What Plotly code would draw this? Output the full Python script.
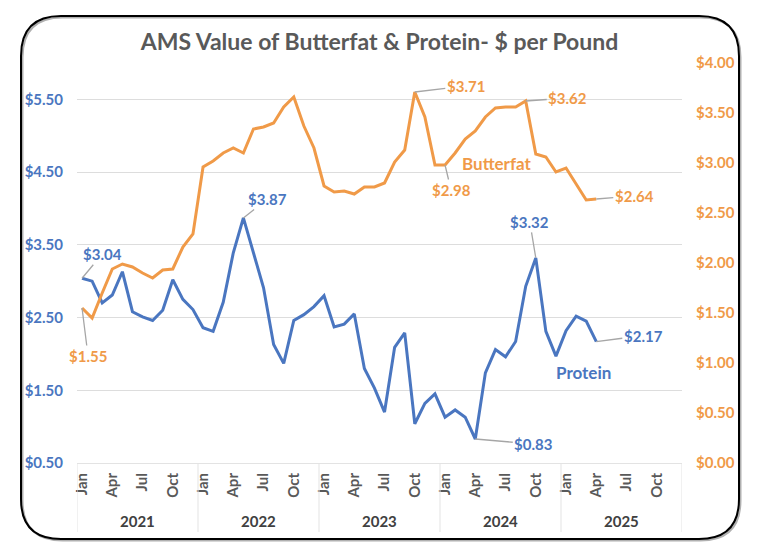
import plotly.graph_objects as go

# monthly values, Jan 2021 .. Apr 2025
protein = [
    3.04, 3.00, 2.70, 2.81, 3.13, 2.58, 2.51, 2.46, 2.60, 3.02, 2.75, 2.61,
    2.36, 2.31, 2.71, 3.39, 3.87, 3.39, 2.91, 2.13, 1.87, 2.46, 2.54, 2.65,
    2.80, 2.37, 2.41, 2.55, 1.80, 1.53, 1.20, 2.09, 2.29, 1.04, 1.32, 1.45,
    1.13, 1.23, 1.13, 0.83, 1.74, 2.06, 1.96, 2.17, 2.93, 3.32, 2.31, 1.97,
    2.32, 2.52, 2.45, 2.17,
]
butterfat = [
    1.55, 1.45, 1.70, 1.94, 1.99, 1.96, 1.90, 1.85, 1.93, 1.94, 2.16, 2.29,
    2.96, 3.02, 3.10, 3.15, 3.10, 3.34, 3.36, 3.40, 3.56, 3.66, 3.37, 3.15,
    2.77, 2.71, 2.72, 2.69, 2.76, 2.76, 2.80, 3.01, 3.13, 3.71, 3.46, 2.98,
    2.98, 3.10, 3.24, 3.32, 3.46, 3.55, 3.56, 3.56, 3.62, 3.09, 3.06, 2.91,
    2.95, 2.79, 2.63, 2.64,
]
years = ["2021", "2022", "2023", "2024", "2025"]
tick_months = ["Jan", "Apr", "Jul", "Oct"]
left_ticks = [0.5, 1.5, 2.5, 3.5, 4.5, 5.5]
right_ticks = [0.0, 0.5, 1.0, 1.5, 2.0, 2.5, 3.0, 3.5, 4.0]

# which points get a data label, and where the label text sits (pixel offset)
protein_labels = {0: (20, -24), 16: (24, -19), 39: (58, 5), 45: (-6, -36), 51: (47, -6)}
butterfat_labels = {0: (6, 48), 33: (51, -6), 36: (6, 25), 44: (42, -3), 51: (38, -3)}

BLUE = "#4A76C0"
ORANGE = "#F09A48"
GREY = "#595959"
FONT = "Lato"

W, H = 760, 558
# the page body adds an 8px margin, so lay out everything 8px up/left
OFF = 8
L, T = 77 - OFF, 63 - OFF
R, B = W - (682 - OFF), H - (463 - OFF)
n_months = len(years) * 12
idx = list(range(len(protein)))


def px(x):
    return (x - OFF - L) / (W - L - R)


def py(y):
    return (H - B - (y - OFF)) / (H - T - B)


fig = go.Figure()
fig.add_trace(go.Scatter(
    x=idx, y=protein, mode="lines", name="Protein",
    line={"color": BLUE, "width": 3},
))
fig.add_trace(go.Scatter(
    x=idx, y=butterfat, mode="lines", name="Butterfat", yaxis="y2",
    line={"color": ORANGE, "width": 3},
))

annotations = []
for i, (ax, ay) in protein_labels.items():
    annotations.append(dict(
        x=i, y=protein[i], xref="x", yref="y", text=f"<b>${protein[i]:.2f}</b>",
        showarrow=True, arrowhead=0, arrowwidth=1.3, arrowcolor="#A6A6A6",
        ax=ax, ay=ay, standoff=0, font={"family": FONT, "size": 15, "color": BLUE},
    ))
for i, (ax, ay) in butterfat_labels.items():
    annotations.append(dict(
        x=i, y=butterfat[i], xref="x", yref="y2", text=f"<b>${butterfat[i]:.2f}</b>",
        showarrow=True, arrowhead=0, arrowwidth=1.3, arrowcolor="#A6A6A6",
        ax=ax, ay=ay, standoff=0, font={"family": FONT, "size": 15, "color": ORANGE},
    ))
annotations.append(dict(
    x=41.2, y=3.0, xref="x", yref="y2", text="<b>Butterfat</b>", showarrow=False,
    font={"family": FONT, "size": 17, "color": ORANGE},
))
annotations.append(dict(
    x=49.7, y=1.74, xref="x", yref="y", text="<b>Protein</b>", showarrow=False,
    font={"family": FONT, "size": 17, "color": BLUE},
))
for k, yr in enumerate(years):
    annotations.append(dict(
        x=k * 12 + 5.5, y=py(521), xref="x", yref="paper", text=f"<b>{yr}</b>",
        showarrow=False, yanchor="middle",
        font={"family": FONT, "size": 15, "color": "#404040"},
    ))

shapes = []
for k in range(len(years) + 1):
    shapes.append(dict(
        type="line", xref="x", yref="paper", x0=k * 12 - 0.5, x1=k * 12 - 0.5,
        y0=0, y1=py(532), line={"color": "#E3E3E3", "width": 1},
    ))

# rounded chart border
x0, y0, x1, y1, rr = 21, 16, 739, 539, 40


def border_path(dx, dy):
    a, b, c, d = x0 + dx, y0 + dy, x1 + dx, y1 + dy
    pts = [
        f"M {px(a + rr)} {py(b)}", f"L {px(c - rr)} {py(b)}",
        f"Q {px(c)} {py(b)} {px(c)} {py(b + rr)}", f"L {px(c)} {py(d - rr)}",
        f"Q {px(c)} {py(d)} {px(c - rr)} {py(d)}", f"L {px(a + rr)} {py(d)}",
        f"Q {px(a)} {py(d)} {px(a)} {py(d - rr)}", f"L {px(a)} {py(b + rr)}",
        f"Q {px(a)} {py(b)} {px(a + rr)} {py(b)}", "Z",
    ]
    return " ".join(pts)


shapes.append(dict(type="path", xref="paper", yref="paper", path=border_path(1.5, 1.5),
                   line={"color": "#B0B0B0", "width": 2}, layer="below"))
shapes.append(dict(type="path", xref="paper", yref="paper", path=border_path(0, 0),
                   line={"color": "black", "width": 2}))

tickvals = [k * 12 + m * 3 for k in range(len(years)) for m in range(len(tick_months))]
ticktext = [f"<b>{m}</b>" for _ in years for m in tick_months]

fig.update_layout(
    width=W, height=H,
    margin={"l": L, "r": R, "t": T, "b": B},
    paper_bgcolor="white", plot_bgcolor="white",
    showlegend=False,
    font={"family": FONT},
    title={
        "text": "<b>AMS Value of Butterfat & Protein- $ per Pound</b>",
        "x": 0.5, "xanchor": "center", "xref": "paper",
        "y": 1 - (42 - OFF) / H, "yanchor": "middle", "yref": "container",
        "font": {"family": FONT, "size": 23, "color": GREY},
    },
    xaxis={
        "range": [-0.5, n_months - 0.5],
        "tickvals": tickvals, "ticktext": ticktext, "tickangle": -90,
        "tickfont": {"family": FONT, "size": 15, "color": GREY},
        "showgrid": False, "zeroline": False,
        "showline": True, "linecolor": "#E3E3E3", "linewidth": 1,
        "ticks": "", "ticklabelstandoff": 3,
    },
    yaxis={
        "range": [0.5, 6.0], "tickvals": left_ticks,
        "ticktext": [f"<b>${v:.2f}</b>" for v in left_ticks],
        "tickfont": {"family": FONT, "size": 15, "color": BLUE},
        "showgrid": True, "gridcolor": "#DDDDDD", "gridwidth": 1,
        "zeroline": False, "ticks": "", "ticklabelstandoff": 13,
    },
    yaxis2={
        "range": [0, 4.0], "tickvals": right_ticks, "overlaying": "y", "side": "right",
        "ticktext": [f"<b>${v:.2f}</b>" for v in right_ticks],
        "tickfont": {"family": FONT, "size": 15, "color": ORANGE},
        "showgrid": False, "zeroline": False, "ticks": "", "ticklabelstandoff": 13,
    },
    annotations=annotations,
    shapes=shapes,
)

fig.write_html("out.html")
